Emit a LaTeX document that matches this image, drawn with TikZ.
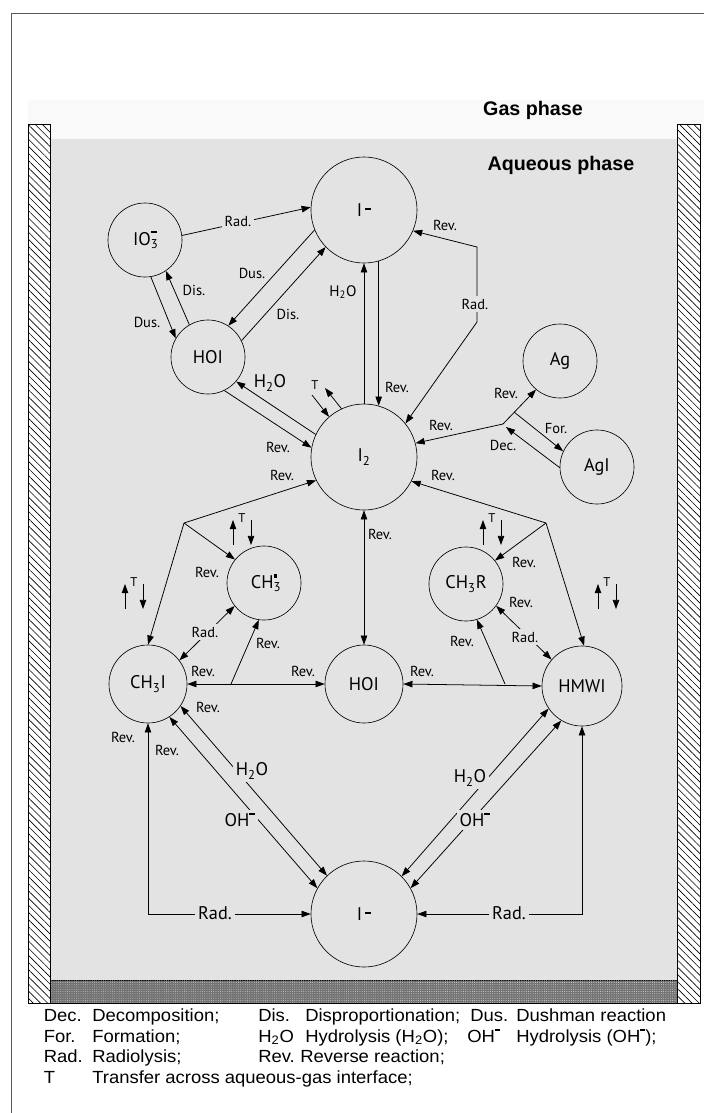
\documentclass[tikz,border=0pt]{standalone}
\usepackage{fontspec}
\setmainfont{PT Sans}
\newfontfamily\legendfont[FakeStretch=1.05]{Liberation Sans}
\newfontfamily\headfont{Liberation Sans}
\usetikzlibrary{arrows.meta,patterns.meta}

\definecolor{aqua}{HTML}{E3E3E3}
\definecolor{gaslight}{HTML}{F9F9F9}
\definecolor{framegray}{HTML}{5A5A5A}

% charge bars and radical dot
\newcommand{\chgmid}{\,\rule[0.36em]{0.33em}{0.1em}}
\newcommand{\chgtop}{\rule[0.66em]{0.33em}{0.1em}}
\newcommand{\legchg}{\rule[0.64em]{0.28em}{0.08em}}
\newcommand{\radsq}{\rule[0.62em]{0.2em}{0.2em}}

\tikzset{
  species/.style={circle, draw, line width=0.45pt, inner sep=0pt,
    font=\fontsize{13}{15}\selectfont},
  bigsp/.style={species, minimum size=2.65cm},
  smsp/.style={species, minimum size=1.85cm},
  rx/.style={->, line width=0.55pt},
  rxx/.style={<->, line width=0.55pt},
  lbl/.style={font=\fontsize{10.3}{12}\selectfont, inner sep=1pt},
  cutlbl/.style={lbl, fill=aqua, inner sep=2pt},
  biglbl/.style={font=\fontsize{13}{15}\selectfont, inner sep=2pt, fill=aqua},
  tlbl/.style={font=\fontsize{9}{10}\selectfont, inner sep=0pt},
  wallbox/.style={draw, line width=0.5pt, preaction={fill=white},
    pattern={Lines[angle=-45,distance=3.6pt,line width=0.45pt]}},
  lgd/.style={font=\legendfont\fontsize{12.5}{14}\selectfont, inner sep=0pt, anchor=base west},
  head/.style={font=\headfont\bfseries\fontsize{14}{16}\selectfont},
}

\begin{document}
\begin{tikzpicture}[x=0.025cm, y=-0.025cm, >={Triangle[length=6.5pt,width=4.6pt]}]
\useasboundingbox (0,0) rectangle (704,1113);

% vessel
\draw[framegray, line width=0.6pt] (704,13) -- (11,13) -- (11,1113);
\fill[gaslight] (28,100) rectangle (704,139);
\fill[aqua] (50,139) rectangle (677,980);
\filldraw[fill=black!55, line width=0.5pt] (50,980) rectangle (677,1003);
\fill[pattern={Dots[distance=1.6pt,radius=0.35pt]}, pattern color=white!85!black] (50,980) rectangle (677,1003);
\draw[wallbox] (28,124) rectangle (50,1003);
\draw[wallbox] (677,124) rectangle (700,1003);
\draw[line width=0.5pt] (28,1003) -- (700,1003);

\node[head] (gas) at (533,110) {Gas phase};
\node[head] (aqu) at (561,165) {Aqueous phase};

% species
\node[smsp] (io3) at (145,240) {IO\rlap{\textsubscript{3}}\chgtop};
\node[bigsp] (itop) at (364,210) {I\chgmid};
\node[smsp] (hoia) at (208,357) {HOI};
\node[bigsp] (itwo) at (364,457) {I\textsubscript{2}};
\node[smsp] (ag) at (560,361) {Ag};
\node[smsp] (agi) at (597,467) {AgI};
\node[smsp] (chtr) at (264,583) {CH\rlap{\textsubscript{3}}\radsq};
\node[smsp] (chr) at (466,584) {CH\textsubscript{3}R};
\node[smsp, minimum size=1.95cm] (chi) at (148,684) {CH\textsubscript{3}I};
\node[smsp, minimum size=1.95cm] (hoib) at (364,684) {HOI};
\node[smsp, minimum size=2cm] (hmwi) at (582,686) {HMWI};
\node[bigsp] (ibot) at (364,914) {I\chgmid};

% junctions
\coordinate (radlo) at (477,322);
\coordinate (radhi) at (477,247);
\coordinate (agj) at (503,424);
\coordinate (forj) at (514,412);
\coordinate (decj) at (506,427);
\coordinate (lj) at (184,523);
\coordinate (rj) at (546,523);
\coordinate (ljb) at (231,684);
\coordinate (rjb) at (505,684);
\coordinate (tin) at (312,395);
\coordinate (tout) at (325,388);

% upper part
\draw[rx] (io3.7) -- (itop.177);
\draw[rx] (io3.-81) -- (hoia.150);
\draw[rx] (hoia.120) -- (io3.-56);
\draw[rx] (itop.-158) -- (hoia.57);
\draw[rx] (hoia.26) -- (itop.-136);
\draw[rx] (itwo.90) -- (itop.270);
\draw[rx] (itop.-74) -- (itwo.74);
\draw[rx] (itwo.155) -- (hoia.-41);
\draw[rx] (hoia.-64) -- (itwo.170);
\draw[rxx] (itwo.39) -- (radlo) -- (radhi) -- (itop.-23);
\draw[rx] (tin) -- (itwo.131);
\draw[rx] (itwo.115) -- (tout);

% silver
\draw[rx] (agj) -- (itwo.15);
\draw[rx] (agj) -- (ag.-130);
\draw[rx] (forj) -- (agi.155);
\draw[rx] (agi.181) -- (decj);

% organic iodides
\draw[rx] (lj) -- (itwo.-154);
\draw[rx] (lj) -- (chi.90);
\draw[rx] (lj) -- (chtr.141);
\draw[rx] (rj) -- (itwo.-27);
\draw[rx] (rj) -- (chr.39);
\draw[rx] (rj) -- (hmwi.87);
\draw[rxx] (chtr.-142) -- (chi.37);
\draw[rxx] (chi.0) -- (hoib.180);
\draw[rx] (ljb) -- (chtr.-98);
\draw[rxx] (itwo.270) -- (hoib.90);
\draw[rxx] (hoib.0) -- (hmwi.180);
\draw[rx] (rjb) -- (chr.-73);
\draw[rxx] (chr.-36) -- (hmwi.139);

% lower part
\draw[rxx] (chi.-34) -- (ibot.134);
\draw[rxx] (chi.-57) -- (ibot.151);
\draw[rxx] (hmwi.-146) -- (ibot.45);
\draw[rxx] (hmwi.-121) -- (ibot.29);
\draw[rxx] (ibot.180) -| (chi.270);
\draw[rxx] (ibot.0) -| (hmwi.270);

% transfer arrows
\foreach \tx/\ty in {233/520, 125/584, 483/520, 598/584} {
  \draw[rx] (\tx,\ty+25) -- ++(0,-25);
  \draw[rx] (\tx+18,\ty) -- ++(0,25);
  \node[tlbl] at (\tx+9,\ty-2) {T};
}

% labels
\node[cutlbl] at (238,221) {Rad.};
\node[lbl] at (147,322) {Dus.};
\node[lbl] at (194,290) {Dis.};
\node[lbl] at (252,273) {Dus.};
\node[lbl] at (288,314) {Dis.};
\node[lbl, font=\fontsize{10.8}{12}\selectfont] at (343,292) {H\textsubscript{2}O};
\node[lbl] at (397,387) {Rev.};
\node[biglbl, fill=none] at (270,383) {H\textsubscript{2}O};
\node[lbl] at (278,447) {Rev.};
\node[tlbl] at (315,385) {T};
\node[lbl] at (445,225) {Rev.};
\node[cutlbl] at (475,304) {Rad.};
\node[lbl] at (441,425) {Rev.};
\node[lbl] at (506,393) {Rev.};
\node[lbl] at (556,429) {For.};
\node[lbl] at (503,445) {Dec.};
\node[lbl] at (282,475) {Rev.};
\node[lbl] at (443,475) {Rev.};
\node[lbl] at (207,572) {Rev.};
\node[lbl] at (524,562) {Rev.};
\node[lbl] at (380,534) {Rev.};
\node[cutlbl] at (205,632) {Rad.};
\node[lbl] at (268,643) {Rev.};
\node[lbl] at (203,671) {Rev.};
\node[lbl] at (303,671) {Rev.};
\node[lbl] at (208,707) {Rev.};
\node[lbl] at (123,737) {Rev.};
\node[lbl] at (167,750) {Rev.};
\node[lbl] at (422,671) {Rev.};
\node[lbl] at (462,641) {Rev.};
\node[lbl] at (521,602) {Rev.};
\node[cutlbl] at (525,637) {Rad.};
\node[biglbl] at (252,771) {H\textsubscript{2}O};
\node[biglbl] at (240,820) {OH\chgtop};
\node[biglbl] at (470,778) {H\textsubscript{2}O};
\node[biglbl] at (475,820) {OH\chgtop};
\node[biglbl] at (215,913) {Rad.};
\node[biglbl] at (509,913) {Rad.};

% legend
\node[lgd] at (43.5,1021.5) {Dec.};
\node[lgd] at (92,1021.5) {Decomposition;};
\node[lgd] at (258,1021.5) {Dis.};
\node[lgd] at (305,1021.5) {Disproportionation;};
\node[lgd] at (470,1021.5) {Dus.};
\node[lgd] at (516,1021.5) {Dushman reaction};
\node[lgd] at (43.5,1042) {For.};
\node[lgd] at (92,1042) {Formation;};
\node[lgd] at (258,1042) {H\textsubscript{2}O};
\node[lgd] at (305,1042) {Hydrolysis (H\textsubscript{2}O);};
\node[lgd] at (467,1042) {OH\legchg};
\node[lgd] at (516,1042) {Hydrolysis (OH\legchg);};
\node[lgd] at (43.5,1062.5) {Rad.};
\node[lgd] at (92,1062.5) {Radiolysis;};
\node[lgd] at (258,1062.5) {Rev.};
\node[lgd] at (300,1062.5) {Reverse reaction;};
\node[lgd] at (43.5,1083) {T};
\node[lgd] at (92,1083) {Transfer across aqueous-gas interface;};
\end{tikzpicture}
\end{document}
